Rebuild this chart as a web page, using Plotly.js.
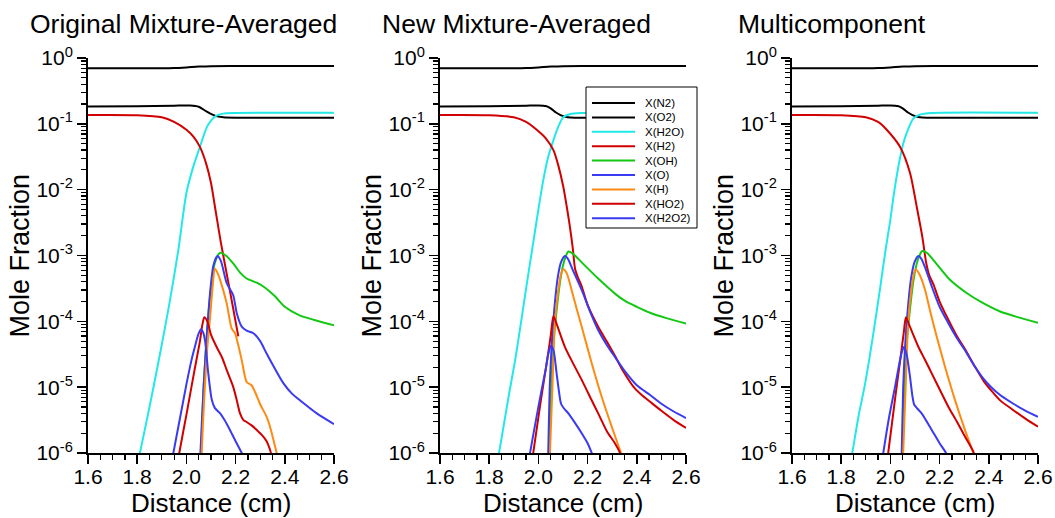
<!DOCTYPE html>
<html>
<head>
<meta charset="utf-8">
<script src="https://cdn.plot.ly/plotly-3.0.1.min.js"></script>
<style>html,body{margin:0;padding:0;background:#fff;}#chart{width:1055px;height:518px;}</style>
</head>
<body>
<div id="chart"></div>
<script>
// ---------------- DATA ----------------
const panelTitles = ['Original Mixture-Averaged', 'New Mixture-Averaged', 'Multicomponent'];
const species = ['X(N2)', 'X(O2)', 'X(H2O)', 'X(H2)', 'X(OH)', 'X(O)', 'X(H)', 'X(HO2)', 'X(H2O2)'];
const xTickVals = [1.6, 1.8, 2.0, 2.2, 2.4, 2.6];
const xTickText = ['1.6', '1.8', '2.0', '2.2', '2.4', '2.6'];
const yTickVals = [1e-6, 1e-5, 1e-4, 1e-3, 1e-2, 1e-1, 1];
const yTickText = ['10<sup>-6</sup>', '10<sup>-5</sup>', '10<sup>-4</sup>', '10<sup>-3</sup>', '10<sup>-2</sup>', '10<sup>-1</sup>', '10<sup>0</sup>'];

// Panel 1: Original Mixture-Averaged
const orig_N2_x = [1.6, 1.9, 1.95, 2.0, 2.05, 2.1, 2.2, 2.6];
const orig_N2_y = [0.70, 0.70, 0.705, 0.72, 0.74, 0.752, 0.755, 0.755];
const orig_O2_x = [1.6, 1.8, 1.95, 2.015, 2.05, 2.083, 2.12, 2.15, 2.2, 2.6];
const orig_O2_y = [0.183, 0.185, 0.189, 0.19, 0.182, 0.153, 0.131, 0.126, 0.124, 0.124];
const orig_H2O_x = [1.80, 1.811, 1.85, 1.893, 1.93, 1.967, 2.0, 2.028, 2.055, 2.083, 2.10, 2.12, 2.15, 2.2, 2.6];
const orig_H2O_y = [6.3e-7, 1.0e-6, 5.0e-6, 3.24e-5, 1.78e-4, 1.2e-3, 8.9e-3, 2.24e-2, 4.47e-2, 8.9e-2, 0.112, 0.132, 0.143, 0.146, 0.147];
const orig_H2_x = [1.6, 1.8, 1.9, 1.95, 2.0, 2.03, 2.055, 2.08, 2.10, 2.12, 2.14, 2.17, 2.19, 2.211];
const orig_H2_y = [0.136, 0.135, 0.126, 0.107, 0.0813, 0.063, 0.0447, 0.0251, 0.0126, 4.47e-3, 1.58e-3, 3.98e-4, 1.58e-4, 5.9e-5];
const orig_OH_x = [2.058, 2.07, 2.085, 2.10, 2.115, 2.137, 2.16, 2.19, 2.22, 2.245, 2.27, 2.29, 2.32, 2.36, 2.4, 2.46, 2.52, 2.6];
const orig_OH_y = [6.3e-7, 1.0e-5, 7.9e-5, 3.16e-4, 7.6e-4, 1.1e-3, 1.0e-3, 7.6e-4, 5.4e-4, 4.47e-4, 4.07e-4, 3.8e-4, 3.24e-4, 2.4e-4, 1.66e-4, 1.23e-4, 1.05e-4, 8.7e-5];
const orig_O_x = [2.055, 2.057, 2.07, 2.085, 2.098, 2.11, 2.126, 2.14, 2.164, 2.19, 2.205, 2.225, 2.245, 2.272, 2.30, 2.326, 2.36, 2.394, 2.43, 2.462, 2.53, 2.6];
const orig_O_y = [6.3e-7, 1.0e-6, 1.0e-5, 7.9e-5, 3.16e-4, 7.1e-4, 9.8e-4, 8.3e-4, 3.8e-4, 2.51e-4, 1.32e-4, 8.3e-5, 7.2e-5, 6.6e-5, 5.0e-5, 3.24e-5, 1.9e-5, 1.15e-5, 7.9e-6, 6.3e-6, 4.0e-6, 2.75e-6];
const orig_H_x = [2.060, 2.062, 2.072, 2.085, 2.096, 2.106, 2.116, 2.125, 2.137, 2.164, 2.184, 2.198, 2.21, 2.225, 2.245, 2.265, 2.28, 2.299, 2.326, 2.34, 2.367, 2.38];
const orig_H_y = [6.3e-7, 1.0e-6, 6.3e-6, 4.0e-5, 1.12e-4, 3.16e-4, 6.3e-4, 5.6e-4, 4.27e-4, 1.86e-4, 7.8e-5, 6.6e-5, 4.47e-5, 2.57e-5, 1.2e-5, 1.07e-5, 8.3e-6, 5.6e-6, 3.55e-6, 2.51e-6, 1.0e-6, 6.3e-7];
const orig_HO2_x = [1.965, 1.971, 2.0, 2.03, 2.055, 2.065, 2.073, 2.085, 2.10, 2.123, 2.145, 2.164, 2.19, 2.205, 2.218, 2.232, 2.245, 2.265, 2.286, 2.31, 2.326, 2.34, 2.35];
const orig_HO2_y = [7.1e-7, 1.0e-6, 3.8e-6, 1.58e-5, 5.0e-5, 8.9e-5, 1.15e-4, 1.0e-4, 6.3e-5, 4.07e-5, 2.82e-5, 1.82e-5, 1.02e-5, 6.3e-6, 4.0e-6, 3.16e-6, 2.95e-6, 2.63e-6, 2.24e-6, 1.82e-6, 1.51e-6, 1.12e-6, 7.9e-7];
const orig_H2O2_x = [1.94, 1.947, 1.975, 2.001, 2.02, 2.035, 2.048, 2.059, 2.068, 2.076, 2.089, 2.103, 2.116, 2.137, 2.155, 2.177, 2.2, 2.225, 2.235];
const orig_H2O2_y = [7.1e-7, 1.0e-6, 3.55e-6, 1.15e-5, 2.51e-5, 4.17e-5, 6.3e-5, 7.6e-5, 6.8e-5, 5.0e-5, 1.62e-5, 6.5e-6, 4.8e-6, 4.0e-6, 3.16e-6, 2.24e-6, 1.51e-6, 1.0e-6, 8.3e-7];

// Panel 2: New Mixture-Averaged
const newmix_N2_x = [1.6, 1.9, 1.95, 2.0, 2.05, 2.1, 2.2, 2.6];
const newmix_N2_y = [0.70, 0.70, 0.705, 0.72, 0.74, 0.752, 0.755, 0.755];
const newmix_O2_x = [1.6, 1.8, 1.95, 2.0, 2.03, 2.05, 2.07, 2.09, 2.11, 2.13, 2.2, 2.6];
const newmix_O2_y = [0.183, 0.185, 0.189, 0.19, 0.186, 0.172, 0.15, 0.136, 0.128, 0.125, 0.124, 0.124];
const newmix_H2O_x = [1.83, 1.84, 1.88, 1.905, 1.93, 1.95, 1.975, 2.0, 2.02, 2.04, 2.061, 2.08, 2.101, 2.13, 2.17, 2.6];
const newmix_H2O_y = [6.3e-7, 1.0e-6, 7.6e-6, 2.51e-5, 1.0e-4, 3.16e-4, 1.26e-3, 5.0e-3, 1.41e-2, 3.16e-2, 5.6e-2, 8.9e-2, 0.126, 0.141, 0.146, 0.147];
const newmix_H2_x = [1.6, 1.8, 1.9, 1.95, 1.993, 2.03, 2.061, 2.08, 2.101, 2.115, 2.128, 2.14, 2.149, 2.16, 2.176, 2.2, 2.243, 2.28, 2.311, 2.345, 2.386, 2.42, 2.454, 2.5, 2.55, 2.6];
const newmix_H2_y = [0.136, 0.135, 0.126, 0.107, 0.0813, 0.0603, 0.0398, 0.024, 0.0112, 5.6e-3, 2.75e-3, 1.26e-3, 6.3e-4, 4.7e-4, 3.4e-4, 1.78e-4, 8.3e-5, 4.8e-5, 3.0e-5, 1.74e-5, 1.02e-5, 7.6e-6, 6.0e-6, 4.37e-6, 3.16e-6, 2.4e-6];
const newmix_OH_x = [2.043, 2.05, 2.06, 2.075, 2.09, 2.105, 2.122, 2.14, 2.18, 2.243, 2.315, 2.352, 2.4, 2.454, 2.52, 2.6];
const newmix_OH_y = [6.3e-7, 6.3e-6, 4.0e-5, 1.58e-4, 4.47e-4, 8.3e-4, 1.15e-3, 1.07e-3, 7.6e-4, 4.47e-4, 2.57e-4, 2.04e-4, 1.66e-4, 1.35e-4, 1.12e-4, 9.3e-5];
const newmix_O_x = [2.038, 2.040, 2.046, 2.055, 2.065, 2.078, 2.092, 2.108, 2.12, 2.14, 2.176, 2.21, 2.243, 2.28, 2.311, 2.352, 2.4, 2.454, 2.5, 2.55, 2.6];
const newmix_O_y = [6.3e-7, 1.0e-6, 1.0e-5, 5.0e-5, 1.58e-4, 4.47e-4, 7.9e-4, 9.8e-4, 8.9e-4, 6.0e-4, 3.0e-4, 1.41e-4, 7.4e-5, 4.27e-5, 2.88e-5, 1.74e-5, 1.07e-5, 7.6e-6, 5.6e-6, 4.27e-6, 3.4e-6];
const newmix_H_x = [2.045, 2.047, 2.057, 2.067, 2.081, 2.092, 2.101, 2.115, 2.135, 2.155, 2.176, 2.217, 2.257, 2.298, 2.336, 2.345];
const newmix_H_y = [6.3e-7, 1.0e-6, 1.0e-5, 9.3e-5, 3.0e-4, 5.2e-4, 6.2e-4, 5.4e-4, 3.0e-4, 1.58e-4, 8.3e-5, 2.29e-5, 7.2e-6, 2.51e-6, 1.0e-6, 7.9e-7];
const newmix_HO2_x = [1.975, 1.979, 2.01, 2.035, 2.05, 2.061, 2.075, 2.108, 2.14, 2.176, 2.21, 2.243, 2.28, 2.311, 2.332, 2.34];
const newmix_HO2_y = [7.9e-7, 1.0e-6, 6.3e-6, 2.51e-5, 6.0e-5, 1.2e-4, 8.9e-5, 4.07e-5, 2.34e-5, 1.29e-5, 7.1e-6, 4.0e-6, 2.09e-6, 1.41e-6, 1.0e-6, 7.9e-7];
const newmix_H2O2_x = [1.962, 1.966, 1.99, 2.013, 2.03, 2.04, 2.051, 2.062, 2.074, 2.085, 2.092, 2.105, 2.122, 2.15, 2.176, 2.2, 2.217, 2.225];
const newmix_H2O2_y = [7.9e-7, 1.0e-6, 3.16e-6, 9.1e-6, 1.9e-5, 3.16e-5, 4.27e-5, 3.55e-5, 1.62e-5, 7.9e-6, 5.6e-6, 4.7e-6, 4.0e-6, 2.82e-6, 2.0e-6, 1.41e-6, 1.0e-6, 8.3e-7];

// Panel 3: Multicomponent
const multi_N2_x = [1.6, 1.9, 1.95, 2.0, 2.05, 2.1, 2.2, 2.6];
const multi_N2_y = [0.70, 0.70, 0.705, 0.72, 0.74, 0.752, 0.755, 0.755];
const multi_O2_x = [1.6, 1.8, 1.95, 2.0, 2.03, 2.05, 2.07, 2.09, 2.11, 2.13, 2.2, 2.6];
const multi_O2_y = [0.183, 0.185, 0.189, 0.19, 0.186, 0.172, 0.15, 0.136, 0.128, 0.125, 0.124, 0.124];
const multi_H2O_x = [1.835, 1.845, 1.87, 1.897, 1.93, 1.96, 1.979, 2.0, 2.012, 2.03, 2.052, 2.07, 2.093, 2.12, 2.17, 2.6];
const multi_H2O_y = [6.3e-7, 1.0e-6, 3.55e-6, 1.12e-5, 6.3e-5, 3.55e-4, 1.12e-3, 3.55e-3, 7.6e-3, 2.0e-2, 5.0e-2, 7.9e-2, 0.12, 0.138, 0.146, 0.147];
const multi_H2_x = [1.6, 1.8, 1.9, 1.95, 1.985, 2.039, 2.08, 2.107, 2.13, 2.145, 2.158, 2.175, 2.2, 2.236, 2.27, 2.303, 2.344, 2.378, 2.41, 2.446, 2.5, 2.55, 2.6];
const multi_H2_y = [0.136, 0.135, 0.126, 0.107, 0.0813, 0.0447, 0.0178, 5.5e-3, 1.9e-3, 7.9e-4, 5.0e-4, 3.63e-4, 2.0e-4, 1.05e-4, 6.0e-5, 3.8e-5, 2.04e-5, 1.26e-5, 8.9e-6, 6.3e-6, 4.47e-6, 3.3e-6, 2.51e-6];
const multi_OH_x = [2.048, 2.055, 2.065, 2.08, 2.095, 2.112, 2.130, 2.148, 2.175, 2.242, 2.31, 2.37, 2.446, 2.52, 2.6];
const multi_OH_y = [6.3e-7, 6.3e-6, 4.0e-5, 1.58e-4, 4.47e-4, 8.7e-4, 1.17e-3, 1.1e-3, 8.5e-4, 4.27e-4, 2.69e-4, 1.95e-4, 1.41e-4, 1.15e-4, 9.5e-5];
const multi_O_x = [2.044, 2.046, 2.052, 2.061, 2.071, 2.084, 2.098, 2.114, 2.126, 2.145, 2.168, 2.2, 2.236, 2.27, 2.303, 2.344, 2.378, 2.41, 2.446, 2.5, 2.55, 2.6];
const multi_O_y = [6.3e-7, 1.0e-6, 1.0e-5, 5.0e-5, 1.58e-4, 4.47e-4, 7.9e-4, 9.8e-4, 8.9e-4, 6.0e-4, 3.4e-4, 1.66e-4, 9.3e-5, 5.6e-5, 3.63e-5, 2.04e-5, 1.35e-5, 1.0e-5, 7.6e-6, 5.6e-6, 4.37e-6, 3.55e-6];
const multi_H_x = [2.05, 2.052, 2.062, 2.072, 2.085, 2.095, 2.103, 2.118, 2.141, 2.16, 2.181, 2.222, 2.263, 2.303, 2.337, 2.345];
const multi_H_y = [6.3e-7, 1.0e-6, 1.0e-5, 9.3e-5, 3.0e-4, 5.2e-4, 6.2e-4, 5.2e-4, 3.0e-4, 1.51e-4, 7.4e-5, 2.04e-5, 6.3e-6, 2.24e-6, 1.0e-6, 7.9e-7];
const multi_HO2_x = [1.987, 1.991, 2.02, 2.043, 2.055, 2.063, 2.078, 2.114, 2.14, 2.168, 2.2, 2.236, 2.27, 2.303, 2.337, 2.345];
const multi_HO2_y = [7.9e-7, 1.0e-6, 7.1e-6, 3.16e-5, 7.1e-5, 1.15e-4, 8.5e-5, 4.07e-5, 2.63e-5, 1.62e-5, 9.3e-6, 5.0e-6, 3.0e-6, 1.78e-6, 1.05e-6, 8.3e-7];
const multi_H2O2_x = [1.967, 1.971, 1.995, 2.019, 2.039, 2.048, 2.055, 2.066, 2.08, 2.09, 2.097, 2.11, 2.127, 2.168, 2.2, 2.226, 2.235];
const multi_H2O2_y = [7.9e-7, 1.0e-6, 3.55e-6, 1.02e-5, 2.57e-5, 3.55e-5, 4.07e-5, 3.16e-5, 1.41e-5, 7.1e-6, 5.4e-6, 4.7e-6, 4.0e-6, 2.24e-6, 1.41e-6, 1.0e-6, 8.3e-7];

// ---------------- STYLE ----------------
const colors = ['#000000', '#000000', '#22e8e8', '#d00000', '#12c812', '#3a3af2', '#ff8a12', '#d00000', '#3a3af2'];
const FONT = 'Liberation Sans, Arial, Helvetica, sans-serif';

const panelData = [
  [[orig_N2_x, orig_N2_y], [orig_O2_x, orig_O2_y], [orig_H2O_x, orig_H2O_y], [orig_H2_x, orig_H2_y], [orig_OH_x, orig_OH_y], [orig_O_x, orig_O_y], [orig_H_x, orig_H_y], [orig_HO2_x, orig_HO2_y], [orig_H2O2_x, orig_H2O2_y]],
  [[newmix_N2_x, newmix_N2_y], [newmix_O2_x, newmix_O2_y], [newmix_H2O_x, newmix_H2O_y], [newmix_H2_x, newmix_H2_y], [newmix_OH_x, newmix_OH_y], [newmix_O_x, newmix_O_y], [newmix_H_x, newmix_H_y], [newmix_HO2_x, newmix_HO2_y], [newmix_H2O2_x, newmix_H2O2_y]],
  [[multi_N2_x, multi_N2_y], [multi_O2_x, multi_O2_y], [multi_H2O_x, multi_H2O_y], [multi_H2_x, multi_H2_y], [multi_OH_x, multi_OH_y], [multi_O_x, multi_O_y], [multi_H_x, multi_H_y], [multi_HO2_x, multi_HO2_y], [multi_H2O2_x, multi_H2O2_y]]
];

const W = 1055, H = 518;
const plotLeftPx = [88, 440, 792];
const plotWidthPx = 246;
const plotTopPx = 58, plotBottomPx = 453;
const titleLeftPx = [28, 380, 736];
const yTitleXPx = [20, 372, 724];

const traces = [];
panelData.forEach((pd, p) => {
  const xa = p === 0 ? 'x' : 'x' + (p + 1);
  const ya = p === 0 ? 'y' : 'y' + (p + 1);
  pd.forEach((s, i) => {
    traces.push({
      type: 'scatter', mode: 'lines', x: s[0], y: s[1],
      xaxis: xa, yaxis: ya, name: species[i], showlegend: false,
      line: {color: colors[i], width: 2, shape: 'spline', smoothing: 0.7},
      hoverinfo: 'skip'
    });
  });
});

// minor tick positions for log axis (2..9 per decade)
const yMinor = [];
for (let e = -6; e < 0; e++) for (let m = 2; m <= 9; m++) yMinor.push(m * Math.pow(10, e));

const layout = {
  width: W, height: H,
  margin: {l: 0, r: 0, t: 0, b: 0},
  paper_bgcolor: '#fff', plot_bgcolor: '#fff',
  font: {family: FONT, color: '#000'},
  showlegend: false,
  annotations: [], shapes: []
};

for (let p = 0; p < 3; p++) {
  const xk = p === 0 ? 'xaxis' : 'xaxis' + (p + 1);
  const yk = p === 0 ? 'yaxis' : 'yaxis' + (p + 1);
  const xa = p === 0 ? 'x' : 'x' + (p + 1);
  const ya = p === 0 ? 'y' : 'y' + (p + 1);
  layout[xk] = {
    domain: [plotLeftPx[p] / W, (plotLeftPx[p] + plotWidthPx) / W],
    anchor: ya, range: [1.6, 2.6], fixedrange: true,
    showline: true, linewidth: 2, linecolor: '#000', zeroline: false, showgrid: false,
    ticks: 'outside', ticklen: 9, tickwidth: 1.5, tickcolor: '#000',
    tickmode: 'array', tickvals: xTickVals, ticktext: xTickText,
    tickfont: {family: FONT, size: 21, color: '#000'},
    ticklabelstandoff: -5,
    minor: {tickmode: 'linear', tick0: 1.6, dtick: 0.05, ticks: 'outside', ticklen: 5, tickwidth: 1.2, tickcolor: '#000', showgrid: false},
    automargin: false
  };
  layout[yk] = {
    domain: [1 - plotBottomPx / H, 1 - plotTopPx / H],
    anchor: xa, type: 'log', range: [-6, 0], fixedrange: true,
    showline: true, linewidth: 2, linecolor: '#000', zeroline: false, showgrid: false,
    ticks: 'outside', ticklen: 9, tickwidth: 1.5, tickcolor: '#000',
    tickmode: 'array', tickvals: yTickVals, ticktext: yTickText,
    tickfont: {family: FONT, size: 21, color: '#000'},
    minor: {tickmode: 'array', tickvals: yMinor, ticks: 'outside', ticklen: 5, tickwidth: 1.2, tickcolor: '#000', showgrid: false},
    automargin: false
  };
  // panel title
  layout.annotations.push({
    xref: 'paper', yref: 'paper', x: titleLeftPx[p] / W, y: 1 - 24 / H,
    xanchor: 'left', yanchor: 'middle', showarrow: false,
    text: panelTitles[p], font: {family: FONT, size: 26.5, color: '#000'}
  });
  // y title
  layout.annotations.push({
    xref: 'paper', yref: 'paper', x: yTitleXPx[p] / W, y: 1 - ((plotTopPx + plotBottomPx) / 2) / H,
    xanchor: 'center', yanchor: 'middle', showarrow: false, textangle: -90,
    text: 'Mole Fraction', font: {family: FONT, size: 27, color: '#000'}
  });
  // x title
  layout.annotations.push({
    xref: 'paper', yref: 'paper', x: (plotLeftPx[p] + plotWidthPx / 2) / W, y: 1 - 503 / H,
    xanchor: 'center', yanchor: 'middle', showarrow: false,
    text: 'Distance (cm)', font: {family: FONT, size: 26, color: '#000'}
  });
}

// legend box in panel 2 (custom, for compact spacing)
const legBox = {x0: 586, x1: 697, y0: 87, y1: 228};
layout.shapes.push({
  type: 'rect', xref: 'paper', yref: 'paper', layer: 'above',
  x0: legBox.x0 / W, x1: legBox.x1 / W, y0: 1 - legBox.y1 / H, y1: 1 - legBox.y0 / H,
  line: {color: '#000', width: 1}, fillcolor: '#fff'
});
species.forEach((name, i) => {
  const yPx = 103 + i * 14.4;
  layout.shapes.push({
    type: 'line', xref: 'paper', yref: 'paper', layer: 'above',
    x0: 592 / W, x1: 635 / W, y0: 1 - yPx / H, y1: 1 - yPx / H,
    line: {color: colors[i], width: 2}
  });
  layout.annotations.push({
    xref: 'paper', yref: 'paper', x: 643 / W, y: 1 - yPx / H,
    xanchor: 'left', yanchor: 'middle', showarrow: false,
    text: name, font: {family: FONT, size: 11.5, color: '#000'}
  });
});

Plotly.newPlot('chart', traces, layout, {staticPlot: true, displayModeBar: false});
</script>
</body>
</html>
